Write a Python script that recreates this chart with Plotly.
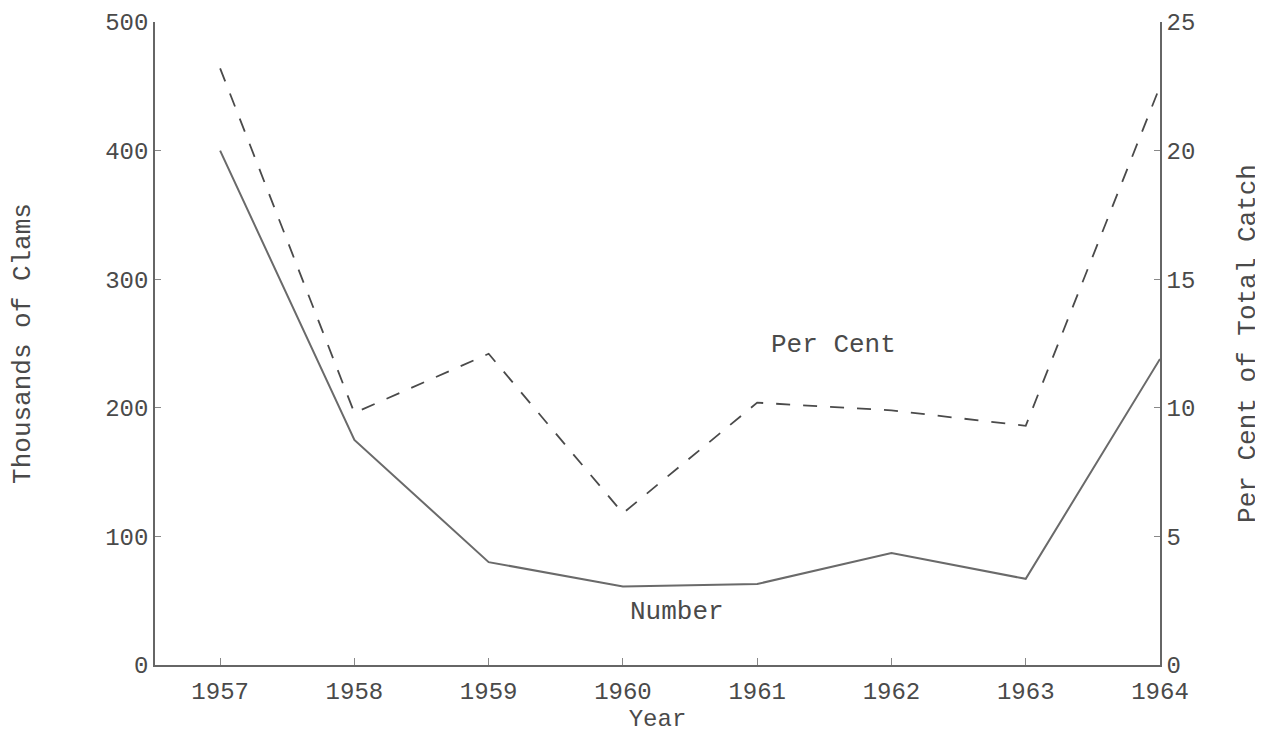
import plotly.graph_objects as go

# data
years = [1957, 1958, 1959, 1960, 1961, 1962, 1963, 1964]
numberThousands = [400, 175, 80, 61, 63, 87, 67, 238]
perCent = [23.2, 9.8, 12.1, 5.9, 10.2, 9.9, 9.3, 22.5]

leftTicks = [0, 100, 200, 300, 400, 500]
rightTicks = [0, 5, 10, 15, 20, 25]

typeFont = "Liberation Mono"
inkColor = "#4a4a4a"

fig = go.Figure()

#Number of clams (solid, left axis)
fig.add_trace(go.Scatter(x=years, y=numberThousands, mode="lines", name="Number",
                         line=dict(color="#6a6a6a", width=2), yaxis="y"))

#Per cent of total catch (dashed, right axis)
fig.add_trace(go.Scatter(x=years, y=perCent, mode="lines", name="Per Cent",
                         line=dict(color="#4a4a4a", width=1.8, dash="14px,13px"), yaxis="y2"))

fig.add_annotation(x=1961.57, y=249, xref="x", yref="y", text="Per Cent", showarrow=False,
                   font=dict(family=typeFont, size=26, color=inkColor))
fig.add_annotation(x=1960.4, y=41, xref="x", yref="y", text="Number", showarrow=False,
                   font=dict(family=typeFont, size=26, color=inkColor))

# page body adds an 8px offset, so the figure is a bit smaller than the window
fig.update_layout(
    width=1255, height=732,
    margin=dict(l=147, r=103, t=14, b=75),
    paper_bgcolor="white", plot_bgcolor="white",
    showlegend=False,
    font=dict(family=typeFont, size=24, color=inkColor),
    xaxis=dict(range=[1956.515, 1964], tickvals=years, ticktext=[str(y) for y in years],
               showline=True, linecolor="#666666", linewidth=1.5, showgrid=False, zeroline=False,
               ticks="inside", ticklen=7, tickcolor="#888888", automargin=False, ticklabelstandoff=3,
               title=dict(text="Year", font=dict(family=typeFont, size=24, color=inkColor), standoff=0),
               tickfont=dict(family=typeFont, size=24, color=inkColor)),
    yaxis=dict(range=[0, 500], tickvals=leftTicks, showline=True, linecolor="#666666", linewidth=1.5,
               showgrid=False, zeroline=False, ticks="inside", ticklen=6, tickcolor="#888888",
               automargin=False,
               title=dict(text="Thousands of Clams", font=dict(family=typeFont, size=26, color=inkColor), standoff=72),
               tickfont=dict(family=typeFont, size=24, color=inkColor)),
    yaxis2=dict(range=[0, 25], tickvals=rightTicks, overlaying="y", side="right", showline=True,
                linecolor="#666666", linewidth=1.5, showgrid=False, zeroline=False,
                ticks="inside", ticklen=6, tickcolor="#888888", automargin=False,
                title=dict(text="Per Cent of Total Catch", font=dict(family=typeFont, size=26, color=inkColor), standoff=42),
                tickfont=dict(family=typeFont, size=24, color=inkColor)),
)

fig.write_html("out.html")
